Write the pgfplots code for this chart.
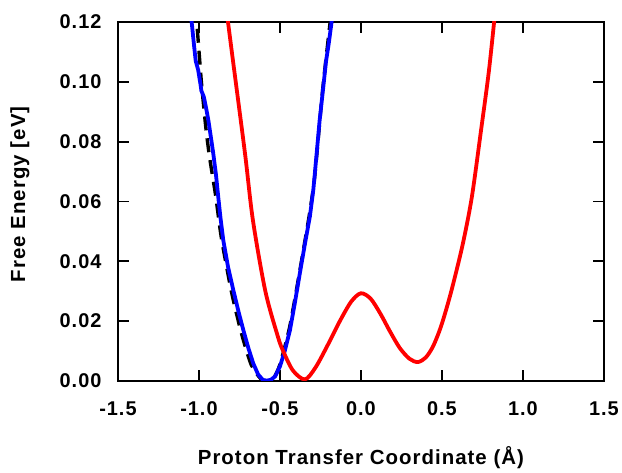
\documentclass[border=0pt]{standalone}
\usepackage{fontspec}
\setmainfont{Liberation Sans}[LetterSpace=5]
\usepackage{pgfplots}
\pgfplotsset{compat=1.18}
\begin{document}
\begin{tikzpicture}
\begin{axis}[
  scale only axis,
  width=486bp, height=359bp,
  xmin=-1.5, xmax=1.5, ymin=0, ymax=0.12,
  xtick={-1.5,-1,...,1.5},
  ytick={0,0.02,...,0.12},
  minor tick num=0,
  tick align=inside,
  major tick length=11bp,
  every tick/.style={line width=1.8bp, black},
  axis line style={line width=2.6bp},
  /pgf/number format/assume math mode=true,
  xticklabel style={/pgf/number format/fixed, /pgf/number format/fixed zerofill, /pgf/number format/precision=1, yshift=-17bp},
  yticklabel style={/pgf/number format/fixed, /pgf/number format/fixed zerofill, /pgf/number format/precision=2, xshift=-13bp},
  tick label style={font=\fontsize{20}{24}\selectfont\bfseries},
  label style={font=\fontsize{20.5}{24}\selectfont\bfseries},
  xlabel={Proton Transfer Coordinate (Å)},
  ylabel={Free Energy [eV]},
  xlabel style={at={(axis description cs:0.5,0)}, anchor=base, yshift=-84bp},
  ylabel style={at={(axis description cs:-0.2016,0.52)}, anchor=center},
  clip=true,
]
% black dashed reference
\addplot[black, line width=3.4bp, dash pattern=on 14bp off 8bp, smooth, tension=0.4] coordinates {
(-1.03,0.125) (-1.014,0.120) (-0.985,0.100) (-0.958,0.085) (-0.935,0.075) (-0.897,0.062)
(-0.862,0.048) (-0.80,0.030) (-0.738,0.016) (-0.678,0.0055) (-0.62,0.0008) (-0.58,0.0) (-0.54,0.0008)
(-0.50,0.0055) (-0.44,0.018) (-0.38,0.036) (-0.32,0.055) (-0.29,0.066) (-0.27,0.077) (-0.235,0.098) (-0.19,0.120) (-0.18,0.125)
};
% blue
\addplot[blue, line width=3.8bp] coordinates {
(-1.05,0.125) (-1.045,0.120) (-1.03,0.112) (-1.02,0.107) (-1.005,0.104) (-0.99,0.099) (-0.985,0.097)
(-0.97,0.095) (-0.955,0.091) (-0.942,0.0872) (-0.925,0.081) (-0.912,0.0762) (-0.895,0.069)
(-0.881,0.0616) (-0.868,0.055) (-0.85,0.0471) (-0.82,0.038) (-0.788,0.0304) (-0.755,0.023)
(-0.726,0.017) (-0.695,0.011) (-0.665,0.0059) (-0.635,0.0022) (-0.605,0.0003) (-0.58,0.0001)
(-0.555,0.0004) (-0.53,0.0015) (-0.50,0.0048) (-0.47,0.010) (-0.438,0.017) (-0.408,0.026)
(-0.377,0.036) (-0.345,0.046) (-0.315,0.055) (-0.294,0.0638) (-0.285,0.069) (-0.273,0.0762)
(-0.255,0.087) (-0.232,0.0984) (-0.215,0.107) (-0.198,0.113) (-0.181,0.120) (-0.175,0.125)
};
% red
\addplot[red, line width=3.8bp, smooth, tension=0.5] coordinates {
(-0.83,0.124) (-0.796,0.1096) (-0.716,0.0762) (-0.667,0.0538) (-0.59,0.030)
(-0.512,0.0147) (-0.48,0.0100) (-0.42,0.0035) (-0.346,0.0005) (-0.28,0.0045) (-0.20,0.0125)
(-0.13,0.020) (-0.06,0.0265) (0.0,0.0293) (0.06,0.0275) (0.12,0.0225) (0.18,0.0165)
(0.24,0.0110) (0.30,0.0074) (0.352,0.0063) (0.40,0.0078) (0.445,0.0115) (0.49,0.0175)
(0.53,0.0245) (0.57,0.0325) (0.63,0.046) (0.685,0.0615) (0.741,0.0835) (0.79,0.1035) (0.83,0.124)
};
\end{axis}
\path[use as bounding box] (-118bp,-87bp) rectangle (504bp,381bp);
\end{tikzpicture}
\end{document}
